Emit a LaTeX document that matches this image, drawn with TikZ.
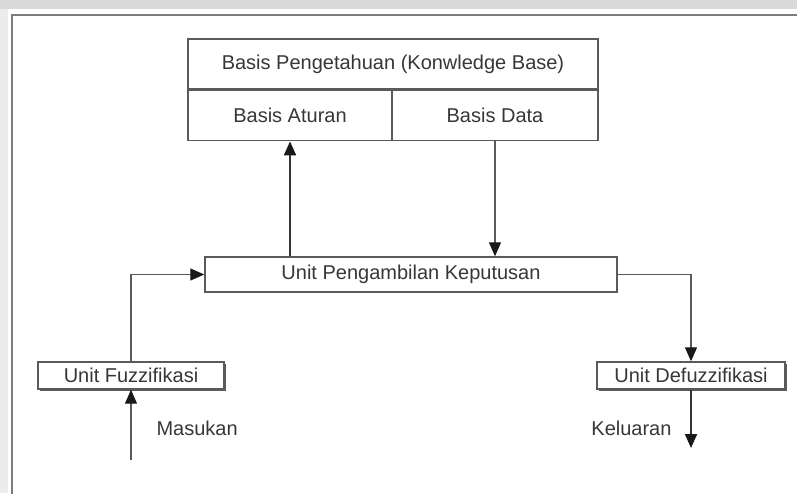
\documentclass[tikz,border=0pt]{standalone}
\usepackage{fontspec}
\setmainfont{Liberation Sans}
\usepackage{xcolor}
\usepackage{tikz}
\usetikzlibrary{arrows.meta, positioning, shadows, calc}
\definecolor{linegray}{RGB}{90, 90, 90}
\definecolor{textgray}{RGB}{55, 55, 55}
\definecolor{framegray}{RGB}{125, 125, 125}
\definecolor{bandgray}{RGB}{217, 217, 217}

\begin{document}
\begin{tikzpicture}[
  x=1pt, y=-1pt,
  every node/.style={font=\fontsize{20}{24}\selectfont, text=textgray},
  kbcell/.style={rectangle, draw=linegray, line width=1.6pt, fill=white,
                 minimum height=50pt, inner sep=0pt},
  unitbox/.style={rectangle, draw=linegray, line width=1.4pt, fill=white, inner sep=0pt},
  shadowbox/.style={unitbox, drop shadow={shadow xshift=1.5pt, shadow yshift=-2pt,
                    fill=linegray, opacity=1}},
  arrow/.style={-{Triangle[length=14pt, width=12pt, color=black!90]}, line width=1.1pt, color=linegray},
  thickarrow/.style={arrow, line width=2pt, color=black!80}
]

% background and frame
\useasboundingbox (0,0) rectangle (797,493);
\fill[bandgray] (0,0) rectangle (797,9);
\fill[bandgray!50] (0,9) rectangle (8,493);
\draw[framegray, line width=2pt] (812,15) -- (12,15) -- (12,500);

% knowledge base
\node[kbcell, minimum width=410pt] (kb) at (393,64) {Basis Pengetahuan (Konwledge Base)};
\node[kbcell, minimum width=204pt, anchor=north west] (aturan) at (kb.south west) {Basis Aturan};
\node[kbcell, minimum width=206pt, anchor=north east] (data) at (kb.south east) {Basis Data};

% units
\node[unitbox, minimum width=412pt, minimum height=35pt] (keputusan) at (411,274.5) {Unit Pengambilan Keputusan};
\node[shadowbox, minimum width=186pt, minimum height=27pt] (fuzz) at (131,375.5) {Unit Fuzzifikasi};
\node[shadowbox, minimum width=188pt, minimum height=27pt] (defuzz) at (691,375.5) {Unit Defuzzifikasi};

% input / output
\coordinate (masuk) at (131,460);
\coordinate (keluar) at (691,448);
\node[anchor=west] (masukan) at (153,428) {Masukan};
\node[anchor=east] (keluaran) at (675,428) {Keluaran};

\draw[thickarrow] (keputusan.north -| aturan.south) -- (aturan.south);
\draw[arrow] (data.south) -- (data.south |- keputusan.north);
\draw[arrow] (fuzz.north) |- (keputusan.west);
\draw[arrow] (keputusan.east) -| (defuzz.north);
\draw[arrow] (masuk) -- (fuzz.south);
\draw[thickarrow] (defuzz.south) -- (keluar);

\end{tikzpicture}
\end{document}
